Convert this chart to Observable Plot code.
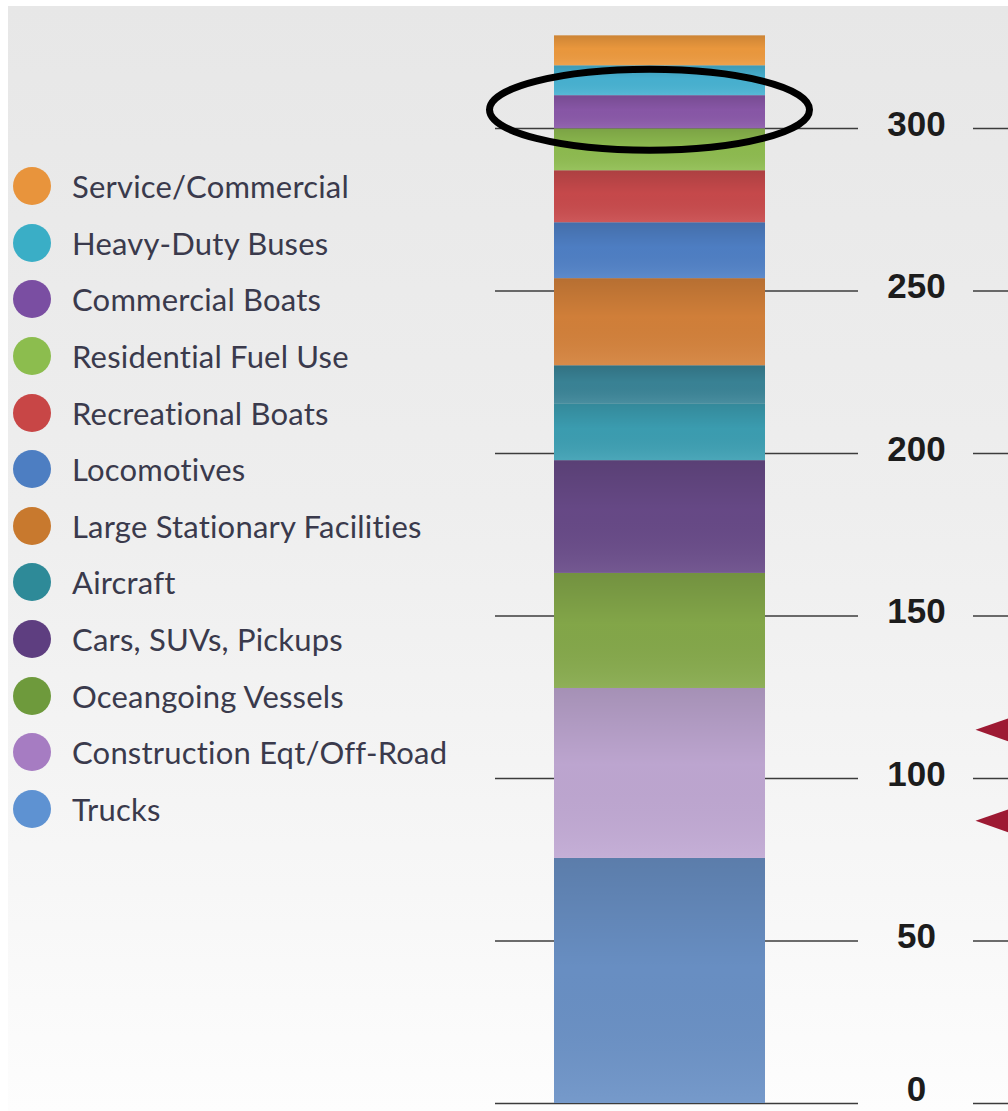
<!DOCTYPE html>
<html>
<head>
<meta charset="utf-8">
<script src="https://cdn.jsdelivr.net/npm/d3@7"></script>
<script src="https://cdn.jsdelivr.net/npm/@observablehq/plot@0.6"></script>
<style>
  html, body { margin: 0; padding: 0; background: #ffffff; }
  #wrap { position: relative; width: 1008px; height: 1111px; overflow: hidden; background: #ffffff; }
  #bg { position: absolute; left: 8px; top: 6px; right: 0; bottom: 0;
        background: linear-gradient(to bottom, #e7e7e7 0%, #eeeeee 45%, #f7f7f7 80%, #fdfdfd 100%); }
  #chart { position: absolute; left: 0; top: 0; }
  #legend { position: absolute; left: 13px; top: 158px; font-family: Lato, "Open Sans", sans-serif; }
  .row { height: 56.6px; display: flex; align-items: center; }
  .sw { width: 38px; height: 38px; border-radius: 50%; margin-right: 21px; flex: none; }
  .lb { font-size: 31px; color: #3a3a4c; white-space: nowrap; letter-spacing: 0.2px; }
</style>
</head>
<body>
<div id="wrap">
  <div id="bg"></div>
  <div id="chart"></div>
  <div id="legend"></div>
</div>
<script>
// Stacked segments, bottom to top
const categories = [
  "Trucks", "Construction Eqt/Off-Road", "Oceangoing Vessels", "Cars, SUVs, Pickups",
  "Aircraft (lower band)", "Aircraft", "Large Stationary Facilities", "Locomotives",
  "Recreational Boats", "Residential Fuel Use", "Commercial Boats", "Heavy-Duty Buses",
  "Service/Commercial"
];
const values = [75.4, 52.3, 35.4, 34.7, 17.5, 11.7, 26.8, 17.2, 16.0, 12.9, 10.2, 9.2, 9.2];
const segmentColors = [
  "#6a91c6", "#c0a8d3", "#85a94a", "#684a88",
  "#3c9fb3", "#3a8497", "#d4813a", "#4f80c6",
  "#c94a4c", "#8fbd50", "#8a58a9", "#48b3d3",
  "#ee9a3e"
];

// Legend (top to bottom)
const legendLabels = [
  "Service/Commercial", "Heavy-Duty Buses", "Commercial Boats", "Residential Fuel Use",
  "Recreational Boats", "Locomotives", "Large Stationary Facilities", "Aircraft",
  "Cars, SUVs, Pickups", "Oceangoing Vessels", "Construction Eqt/Off-Road", "Trucks"
];
const legendColors = [
  "#e8943c", "#3aaec6", "#7a4ea2", "#8cbd4e",
  "#c84646", "#4d7ec2", "#c8792e", "#2e8a98",
  "#5e3e80", "#6e9a3c", "#a67cc2", "#5e92d2"
];

const yTicks = [0, 50, 100, 150, 200, 250, 300];
const markerLevels = [115, 87];
const highlightCategory = "Commercial Boats";

const data = categories.map((c, i) => ({category: c, value: values[i], color: segmentColors[i]}));

const W = 1008, H = 1111;
const barLeft = 554, barRight = 765;

const leftTriangle = {
  draw(context, size) {
    const k = Math.sqrt(size / Math.PI);
    context.moveTo(0, 0);
    context.lineTo(40 * k, -14 * k);
    context.lineTo(40 * k, 14 * k);
    context.closePath();
  }
};

const tickFont = '"Liberation Sans", Arial, sans-serif';
const tickStyle = {
  y: d => d, text: d => String(d), frameAnchor: "left", dx: 916,
  textAnchor: "middle", fontSize: 35, fontWeight: "bold", fill: "#1c1c1c",
  fontFamily: tickFont
};

const plot = Plot.plot({
  width: W,
  height: H,
  marginTop: 0, marginBottom: 0, marginLeft: 0, marginRight: 0,
  style: {background: "transparent", overflow: "visible"},
  y: {domain: [0, 300], range: [1103, 128], axis: null},
  color: {type: "identity"},
  marks: [
    Plot.ruleY(yTicks, {insetLeft: 495, insetRight: W - 858, stroke: "#3c3c3c", strokeWidth: 1.6}),
    Plot.ruleY(yTicks, {insetLeft: 973, insetRight: 0, stroke: "#3c3c3c", strokeWidth: 1.6}),
    Plot.barY(data, {y: "value", fill: "color", insetLeft: barLeft, insetRight: W - barRight}),
    Plot.barY(data, {y: "value", fill: "url(#shade)", insetLeft: barLeft, insetRight: W - barRight}),
    Plot.text(yTicks.filter(d => d > 0), {...tickStyle, dy: -4}),
    Plot.text(yTicks.filter(d => d === 0), {...tickStyle, dy: -14}),
    Plot.dot(markerLevels, {y: d => d, frameAnchor: "left", dx: 975, r: 1, symbol: leftTriangle, fill: "#9d1a33"})
  ]
});

// shading gradient for the bar bands
const svg = d3.select(plot);
const defs = svg.insert("defs", ":first-child");
const g = defs.append("linearGradient").attr("id", "shade").attr("x1", 0).attr("y1", 0).attr("x2", 0).attr("y2", 1);
g.append("stop").attr("offset", "0%").attr("stop-color", "#000").attr("stop-opacity", 0.14);
g.append("stop").attr("offset", "45%").attr("stop-color", "#000").attr("stop-opacity", 0.02);
g.append("stop").attr("offset", "100%").attr("stop-color", "#fff").attr("stop-opacity", 0.08);

// ellipse around the highlighted segment
const y = plot.scale("y");
let cum = 0, mid = 0;
data.forEach(d => { if (d.category === highlightCategory) mid = cum + d.value / 2; cum += d.value; });
svg.append("ellipse")
  .attr("cx", (barLeft + barRight) / 2 - 10)
  .attr("cy", y.apply(mid) - 2)
  .attr("rx", 160)
  .attr("ry", 40.5)
  .attr("fill", "none")
  .attr("stroke", "#000")
  .attr("stroke-width", 7);

document.getElementById("chart").appendChild(plot);

// legend
const legend = document.getElementById("legend");
legendLabels.forEach((label, i) => {
  const row = document.createElement("div");
  row.className = "row";
  const sw = document.createElement("div");
  sw.className = "sw";
  sw.style.background = legendColors[i];
  const lb = document.createElement("span");
  lb.className = "lb";
  lb.textContent = label;
  row.appendChild(sw);
  row.appendChild(lb);
  legend.appendChild(row);
});
</script>
</body>
</html>
